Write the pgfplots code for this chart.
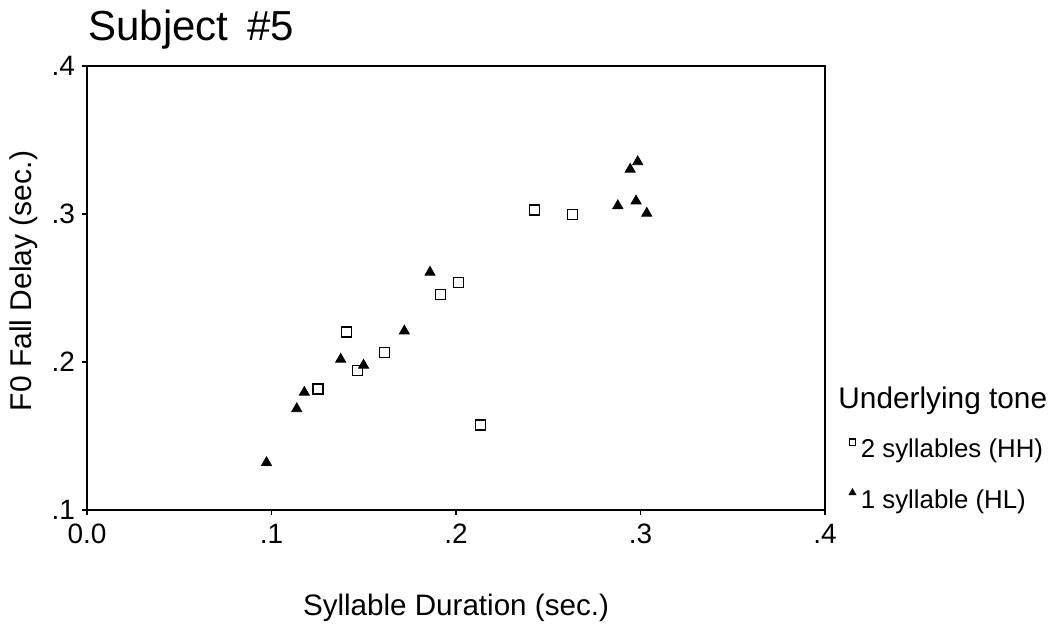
\documentclass[border=0pt]{standalone}
\usepackage{fontspec}
\setmainfont{Liberation Sans}
\usepackage{pgfplots}
\pgfplotsset{compat=1.18}
\begin{document}
\begin{tikzpicture}[x=1pt,y=1pt]
\useasboundingbox (0,0) rectangle (526,312.5);
\begin{axis}[
  at={(43.5pt,57.5pt)}, anchor=south west,
  scale only axis, width=369pt, height=222pt,
  xmin=0, xmax=0.4, ymin=0.1, ymax=0.4,
  xtick={0,0.1,0.2,0.3,0.4}, xticklabels={0.0,.1,.2,.3,.4},
  ytick={0.1,0.2,0.3,0.4}, yticklabels={.1,.2,.3,.4},
  tick align=outside, tick pos=left, major tick length=2.5pt,
  axis line style={line width=0.6pt}, tick style={black, line width=0.6pt},
  ticklabel style={font=\fontsize{14}{16}\selectfont},
  xticklabel style={yshift=-1pt},
  clip=false,
  legend style={draw=none, fill=none, anchor=south west, at={(axis description cs:1.032,-0.0137)},
    font=\fontsize{12.9}{15}\selectfont, row sep=10.5pt, inner sep=0pt},
  legend cell align=left,
  legend image code/.code={\path (0pt,-5.6pt) (0pt,5.6pt); \draw[#1] plot coordinates {(0pt,4pt)};},
]
\addplot[only marks, mark=square, mark size=2.5pt, mark options={draw=black, fill=white, line width=0.6pt},
  legend image post style={mark size=1.6pt}]
coordinates {
(0.2425,0.3027) (0.2631,0.2998) (0.2015,0.2539) (0.1916,0.2457) (0.1407,0.2203)
(0.1612,0.2063) (0.1465,0.1941) (0.1252,0.1818) (0.2131,0.1574)
};
\addlegendentry{\hspace{0.5pt}2 syllables (HH)}
\addplot[only marks, mark=triangle*, mark size=2.9pt, mark options={draw=black, fill=black},
  legend image post style={mark size=2pt}]
coordinates {
(0.2985,0.3353) (0.2944,0.3302) (0.2877,0.3056) (0.2976,0.3088) (0.3034,0.3005)
(0.1859,0.2606) (0.1720,0.2209) (0.1375,0.2018) (0.1499,0.1978) (0.1178,0.1795)
(0.1137,0.1684) (0.0973,0.1320)
};
\addlegendentry{\hspace{0.5pt}1 syllable (HL)}
\end{axis}
\node[anchor=base west, font=\fontsize{21}{24}\selectfont, inner sep=0pt] at (44,292) {Subject\hspace{9.5pt}\#5};
\node[anchor=base, font=\fontsize{14.8}{17}\selectfont, inner sep=0pt] at (228,4.5) {Syllable Duration (sec.)};
\node[anchor=base, rotate=90, font=\fontsize{15}{17}\selectfont, inner sep=0pt] at (16,172) {F0 Fall Delay (sec.)};
\node[anchor=base west, font=\fontsize{14.9}{17}\selectfont, inner sep=0pt] at (419,108) {Underlying tone};
\end{tikzpicture}
\end{document}
